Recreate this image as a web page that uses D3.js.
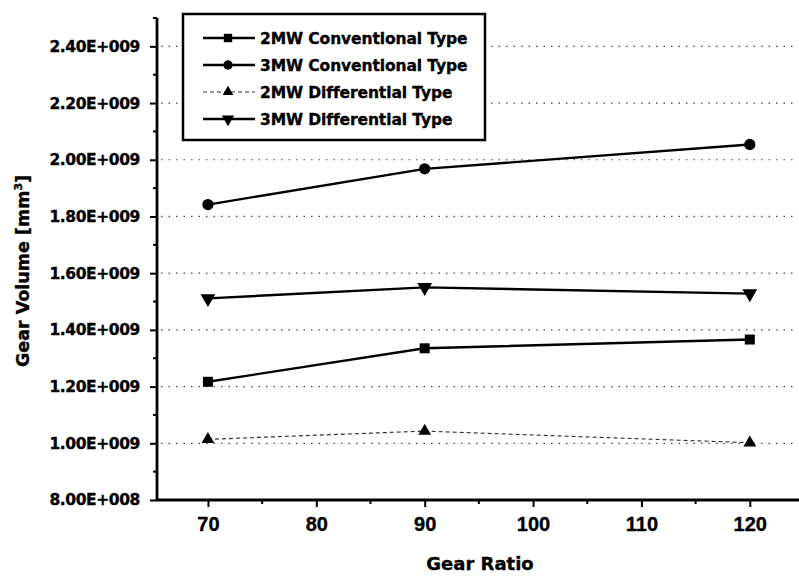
<!DOCTYPE html>
<html>
<head>
<meta charset="utf-8">
<script src="https://cdn.jsdelivr.net/npm/d3@7.9.0/dist/d3.min.js"></script>
<style>
  html, body { margin: 0; padding: 0; background: #fff; }
  svg text { font-family: "DejaVu Sans", "Liberation Sans", sans-serif; font-weight: bold; fill: #000; stroke: #000; stroke-width: 0.35px; }
</style>
</head>
<body>
<svg id="chart" width="799" height="580"></svg>
<script>
// gear ratios on the x axis
const gearRatios = [70, 90, 120];

// gear volume, mm^3
const conv2MW = [1.217e9, 1.335e9, 1.366e9];
const conv3MW = [1.842e9, 1.968e9, 2.054e9];
const diff2MW = [1.014e9, 1.043e9, 1.002e9];
const diff3MW = [1.511e9, 1.550e9, 1.528e9];

const seriesNames = [
  "2MW Conventional Type",
  "3MW Conventional Type",
  "2MW Differential Type",
  "3MW Differential Type",
];

const xTicks = [70, 80, 90, 100, 110, 120];
const yTicks = [8e8, 1.0e9, 1.2e9, 1.4e9, 1.6e9, 1.8e9, 2.0e9, 2.2e9, 2.4e9];

const svg = d3.select("#chart");

const plotL = 157, plotT = 18, plotB = 500, plotR = 804;

const x = d3.scaleLinear().domain([65.3, 125]).range([plotL, plotR]);
const y = d3.scaleLinear().domain([8e8, 2.5e9]).range([plotB, plotT]);

// format like Origin: 2.40E+009
const fmtY = (v) => {
  const e = Math.floor(Math.log10(v));
  const m = v / Math.pow(10, e);
  return m.toFixed(2) + "E+" + String(e).padStart(3, "0");
};

// dotted grid at major y ticks
svg.append("g")
  .selectAll("line")
  .data(yTicks.filter((d) => d > 8e8))
  .join("line")
  .attr("x1", plotL + 4)
  .attr("x2", 796)
  .attr("y1", (d) => y(d))
  .attr("y2", (d) => y(d))
  .attr("stroke", "#444")
  .attr("stroke-width", 1.2)
  .attr("stroke-dasharray", "1.5,6");

// series
const series = [
  { name: seriesNames[0], values: conv2MW, symbol: d3.symbolSquare, size: 100, rot: 0, dash: null, width: 2.4, color: "#000" },
  { name: seriesNames[1], values: conv3MW, symbol: d3.symbolCircle, size: 100, rot: 0, dash: null, width: 2.4, color: "#000" },
  { name: seriesNames[2], values: diff2MW, symbol: d3.symbolTriangle, size: 70, rot: 0, dash: "4,3", width: 1.2, color: "#333" },
  { name: seriesNames[3], values: diff3MW, symbol: d3.symbolTriangle, size: 95, rot: 180, dash: null, width: 2.4, color: "#000" },
];

const line = d3.line()
  .x((d) => x(d[0]))
  .y((d) => y(d[1]));

series.forEach((s) => {
  const pts = gearRatios.map((g, i) => [g, s.values[i]]);
  svg.append("path")
    .attr("d", line(pts))
    .attr("fill", "none")
    .attr("stroke", s.color)
    .attr("stroke-width", s.width)
    .attr("stroke-dasharray", s.dash);
  svg.append("g")
    .selectAll("path")
    .data(pts)
    .join("path")
    .attr("d", d3.symbol().type(s.symbol).size(s.size))
    .attr("transform", (d) => `translate(${x(d[0])},${y(d[1])}) rotate(${s.rot})`)
    .attr("fill", "#000");
});

// axes
const xAxis = svg.append("g")
  .attr("transform", `translate(0,${plotB})`)
  .call(d3.axisBottom(x).tickValues(xTicks).tickSize(7).tickPadding(10));
xAxis.append("g")
  .selectAll("line")
  .data(d3.range(75, 125, 10))
  .join("line")
  .attr("x1", (d) => x(d)).attr("x2", (d) => x(d))
  .attr("y1", 0).attr("y2", 4)
  .attr("stroke", "#000").attr("stroke-width", 2);

const yAxis = svg.append("g")
  .attr("transform", `translate(${plotL},0)`)
  .call(d3.axisLeft(y).tickValues(yTicks).tickFormat(fmtY).tickSize(7).tickPadding(10));
yAxis.append("g")
  .selectAll("line")
  .data([9e8, 1.1e9, 1.3e9, 1.5e9, 1.7e9, 1.9e9, 2.1e9, 2.3e9, 2.5e9])
  .join("line")
  .attr("x1", 0).attr("x2", -4)
  .attr("y1", (d) => y(d)).attr("y2", (d) => y(d))
  .attr("stroke", "#000").attr("stroke-width", 2);

[xAxis, yAxis].forEach((a) => {
  a.select(".domain").attr("stroke", "#000").attr("stroke-width", 2.8)
    .attr("d", a === xAxis ? `M${plotL},0H799` : `M0,${plotT}V${plotB}`);
  a.selectAll(".tick line").attr("stroke", "#000").attr("stroke-width", 2);
  a.selectAll(".tick text").style("font-weight", "bold");
});
xAxis.selectAll(".tick text")
  .style("font-family", '"Liberation Sans", Arial, sans-serif')
  .attr("font-size", 20);
yAxis.selectAll(".tick text")
  .style("font-family", '"DejaVu Sans", sans-serif')
  .attr("font-size", 15.5)
  .attr("letter-spacing", -0.4);

// axis titles
svg.append("text")
  .attr("x", 480).attr("y", 570)
  .attr("text-anchor", "middle")
  .attr("font-size", 18)
  .text("Gear Ratio");

const yt = svg.append("text")
  .attr("transform", "translate(29,271) rotate(-90)")
  .attr("text-anchor", "middle")
  .attr("font-size", 17.5);
yt.append("tspan").text("Gear Volume [mm");
yt.append("tspan").attr("font-size", 11).attr("dy", -7).text("3");
yt.append("tspan").attr("dy", 7).text("]");

// legend
const lg = svg.append("g");
lg.append("rect")
  .attr("x", 183).attr("y", 14).attr("width", 302).attr("height", 126)
  .attr("fill", "#fff").attr("stroke", "#000").attr("stroke-width", 2.5);

const rowY = d3.scalePoint().domain(seriesNames).range([38, 119]);
series.forEach((s) => {
  const ry = rowY(s.name);
  lg.append("line")
    .attr("x1", 203).attr("x2", 255).attr("y1", ry).attr("y2", ry)
    .attr("stroke", s.color)
    .attr("stroke-width", s.width)
    .attr("stroke-dasharray", s.dash);
  lg.append("path")
    .attr("d", d3.symbol().type(s.symbol).size(s.size * 0.7))
    .attr("transform", `translate(228,${ry}) rotate(${s.rot})`)
    .attr("fill", "#000");
  lg.append("text")
    .attr("x", 260).attr("y", ry + 6)
    .attr("font-size", 15.5)
    .attr("letter-spacing", -0.1)
    .text(s.name);
});
</script>
</body>
</html>
